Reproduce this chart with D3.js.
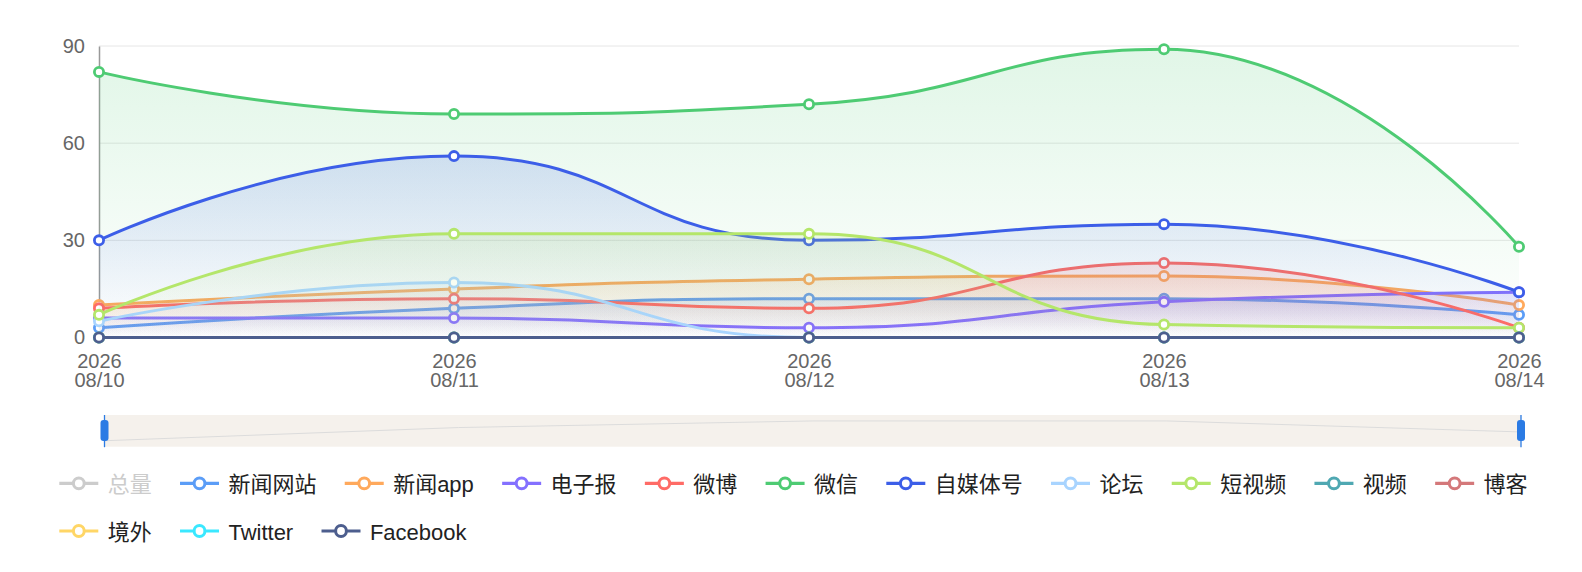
<!DOCTYPE html>
<html>
<head>
<meta charset="utf-8">
<script src="https://cdn.jsdelivr.net/npm/d3@7/dist/d3.min.js"></script>
<style>
  html, body { margin: 0; padding: 0; background: #fff; }
  svg { display: block; font-family: "Liberation Sans", "Noto Sans CJK SC", sans-serif; }
</style>
</head>
<body>
<svg id="chart" width="1582" height="572"></svg>
<script>
// ---------- data ----------
const dates = ["2026\n08/10", "2026\n08/11", "2026\n08/12", "2026\n08/13", "2026\n08/14"];
const seriesNames = ["总量", "新闻网站", "新闻app", "电子报", "微博", "微信", "自媒体号", "论坛", "短视频", "视频", "博客", "境外", "Twitter", "Facebook"];
const seriesColors = ["#cccccc", "#5B9DF7", "#FFA95C", "#8470FF", "#FF6B66", "#4ECB73", "#3C5EE8", "#A8D4FF", "#B4E66A", "#4FA8B2", "#D4787A", "#FFD666", "#3AE8FF", "#4D5E8E"];
const v新闻网站 = [3, 9, 12, 12, 7];
const v新闻app = [10, 15, 18, 19, 10];
const v电子报 = [6, 6, 3, 11, 14];
const v微博 = [9, 12, 9, 23, 3];
const v微信 = [82, 69, 72, 89, 28];
const v自媒体号 = [30, 56, 30, 35, 14];
const v论坛 = [5, 17, 0, 0, 0];
const v短视频 = [7, 32, 32, 4, 3];
const v视频 = [0, 0, 0, 0, 0];
const v博客 = [0, 0, 0, 0, 0];
const v境外 = [0, 0, 0, 0, 0];
const vTwitter = [0, 0, 0, 0, 0];
const vFacebook = [0, 0, 0, 0, 0];
const v总量 = v新闻网站.map((d, i) => d + v新闻app[i] + v电子报[i] + v微博[i] + v微信[i] + v自媒体号[i] + v论坛[i] + v短视频[i]);
const seriesValues = [v总量, v新闻网站, v新闻app, v电子报, v微博, v微信, v自媒体号, v论坛, v短视频, v视频, v博客, v境外, vTwitter, vFacebook];
const hiddenSeries = ["总量"];
const yTicks = [0, 30, 60, 90];

// ---------- layout ----------
const W = 1582, H = 572;
const plot = { left: 99, right: 1519, top: 46, bottom: 337.5 };
const svg = d3.select("#chart");
const defs = svg.append("defs");

const x = d3.scalePoint().domain(dates).range([plot.left, plot.right]);
const y = d3.scaleLinear().domain([0, 90]).range([plot.bottom, plot.top]);

// grid
svg.append("g").selectAll("line").data(yTicks.filter(t => t > 0)).join("line")
  .attr("x1", plot.left).attr("x2", plot.right)
  .attr("y1", d => y(d)).attr("y2", d => y(d))
  .attr("stroke", "#e6e6e6").attr("stroke-width", 1);

// y axis
const yAxis = d3.axisLeft(y).tickValues(yTicks).tickSize(0).tickPadding(14);
const gy = svg.append("g").attr("transform", `translate(${plot.left},0)`).call(yAxis);
gy.select(".domain").attr("stroke", "#999").attr("stroke-width", 1.5);
gy.selectAll("text").attr("font-size", 20).attr("fill", "#666").attr("font-family", null);

// x axis labels (two lines)
const xAxis = d3.axisBottom(x).tickSize(0).tickFormat("");
const gx = svg.append("g").attr("transform", `translate(0,${plot.bottom})`).call(xAxis);
gx.select(".domain").remove();
gx.selectAll(".tick").each(function(d) {
  const lines = d.split("\n");
  const t = d3.select(this).append("text")
    .attr("text-anchor", "middle").attr("font-size", 20).attr("fill", "#666");
  lines.forEach((ln, i) => {
    t.append("tspan").attr("x", 0).attr("y", 23 + i * 19.5).attr("dominant-baseline", "central").text(ln);
  });
});

// echarts-like smooth path
function smoothPath(pts, smooth, ctx) {
  let prevX, prevY, cpx0, cpy0, cpx1, cpy1;
  const n = pts.length;
  for (let k = 0; k < n; k++) {
    const [px, py] = pts[k];
    if (k === 0) { ctx.moveTo(px, py); cpx0 = px; cpy0 = py; }
    else {
      let nextCpx0, nextCpy0;
      if (k + 1 >= n) { cpx1 = px; cpy1 = py; }
      else {
        const [nx, ny] = pts[k + 1];
        let vx = nx - prevX, vy = ny - prevY;
        const dx0 = px - prevX, dx1 = nx - px, dy0 = py - prevY, dy1 = ny - py;
        const lenPrev = Math.sqrt(dx0 * dx0 + dy0 * dy0);
        const lenNext = Math.sqrt(dx1 * dx1 + dy1 * dy1);
        const ratio = lenNext / (lenNext + lenPrev);
        nextCpx0 = px + vx * smooth * ratio;
        nextCpy0 = py + vy * smooth * ratio;
        nextCpx0 = Math.max(Math.min(nextCpx0, Math.max(nx, px)), Math.min(nx, px));
        nextCpy0 = Math.max(Math.min(nextCpy0, Math.max(ny, py)), Math.min(ny, py));
        vx = nextCpx0 - px; vy = nextCpy0 - py;
        cpx1 = px - vx * lenPrev / lenNext;
        cpy1 = py - vy * lenPrev / lenNext;
        cpx1 = Math.max(Math.min(cpx1, Math.max(prevX, px)), Math.min(prevX, px));
        cpy1 = Math.max(Math.min(cpy1, Math.max(prevY, py)), Math.min(prevY, py));
        vx = px - cpx1; vy = py - cpy1;
        nextCpx0 = px + vx * lenNext / lenPrev;
        nextCpy0 = py + vy * lenNext / lenPrev;
      }
      ctx.bezierCurveTo(cpx0, cpy0, cpx1, cpy1, px, py);
      cpx0 = nextCpx0; cpy0 = nextCpy0;
    }
    prevX = px; prevY = py;
  }
  return ctx;
}

// series
const gSeries = svg.append("g");
seriesNames.forEach((name, si) => {
  if (hiddenSeries.includes(name)) return;
  const color = seriesColors[si];
  const vals = seriesValues[si];
  const pts = vals.map((v, i) => [x(dates[i]), y(v)]);
  const gid = "grad" + si;
  const grad = defs.append("linearGradient").attr("id", gid)
    .attr("x1", 0).attr("y1", 0).attr("x2", 0).attr("y2", 1);
  grad.append("stop").attr("offset", 0).attr("stop-color", color).attr("stop-opacity", 0.17);
  grad.append("stop").attr("offset", 1).attr("stop-color", color).attr("stop-opacity", 0);
  const g = gSeries.append("g");
  if (d3.max(vals) > 0) {
    const ap = d3.path();
    smoothPath(pts, 0.5, ap);
    ap.lineTo(pts[pts.length - 1][0], y(0));
    ap.lineTo(pts[0][0], y(0));
    ap.closePath();
    g.append("path").attr("d", ap.toString()).attr("fill", `url(#${gid})`);
  }
  const lp = d3.path();
  smoothPath(pts, 0.5, lp);
  g.append("path").attr("d", lp.toString()).attr("fill", "none")
    .attr("stroke", color).attr("stroke-width", 3).attr("stroke-linejoin", "round");
  g.selectAll("circle").data(pts).join("circle")
    .attr("cx", d => d[0]).attr("cy", d => d[1]).attr("r", 4.6)
    .attr("fill", "#fff").attr("stroke", color).attr("stroke-width", 2.8);
});

// data zoom slider
const dz = { left: 104, right: 1521, top: 415, bottom: 446.7 };
svg.append("rect").attr("x", dz.left).attr("y", dz.top)
  .attr("width", dz.right - dz.left).attr("height", dz.bottom - dz.top)
  .attr("fill", "#F5F1EC");
const shadowData = v新闻网站;
const ext = d3.extent(shadowData);
const off = (ext[1] - ext[0]) * 0.3;
const sx = d3.scalePoint().domain(dates).range([dz.left, dz.right]);
const sy = d3.scaleLinear().domain([ext[0] - off, ext[1] + off]).range([dz.bottom, dz.top]);
svg.append("path")
  .attr("d", d3.line().x((d, i) => sx(dates[i])).y(d => sy(d))(shadowData))
  .attr("fill", "none").attr("stroke", "#dcdcdc").attr("stroke-width", 1);
[dz.left + 0.5, dz.right].forEach(hx => {
  svg.append("line").attr("x1", hx).attr("x2", hx).attr("y1", dz.top).attr("y2", dz.bottom + 0.5)
    .attr("stroke", "#2B7BE4").attr("stroke-width", 1.3);
  svg.append("rect").attr("x", hx - 4).attr("y", 420).attr("width", 8).attr("height", 21)
    .attr("rx", 3).attr("fill", "#2B7BE4");
});

// legend
const legend = svg.append("g");
const lg = { left: 59.3, row0: 483.3, rowGap: 47.7, iconW: 39, textGap: 9.4, itemGap: 28.3, maxRight: 1540 };
let lx = lg.left, row = 0;
seriesNames.forEach((name, si) => {
  const hidden = hiddenSeries.includes(name);
  const color = hidden ? "#cccccc" : seriesColors[si];
  const item = legend.append("g");
  const txt = item.append("text").attr("font-size", 22).attr("dominant-baseline", "central")
    .attr("fill", hidden ? "#cccccc" : "#222").text(name);
  const tw = txt.node().getComputedTextLength();
  const itemW = lg.iconW + lg.textGap + tw;
  if (lx + itemW > lg.maxRight) { row++; lx = lg.left; }
  const cy = lg.row0 + row * lg.rowGap;
  item.insert("line", "text").attr("x1", lx).attr("x2", lx + lg.iconW).attr("y1", cy).attr("y2", cy)
    .attr("stroke", color).attr("stroke-width", 3.2);
  item.insert("circle", "text").attr("cx", lx + lg.iconW / 2).attr("cy", cy).attr("r", 5.4)
    .attr("fill", "#fff").attr("stroke", color).attr("stroke-width", 3);
  txt.attr("x", lx + lg.iconW + lg.textGap).attr("y", cy + 1);
  lx += itemW + lg.itemGap;
});
</script>
</body>
</html>
